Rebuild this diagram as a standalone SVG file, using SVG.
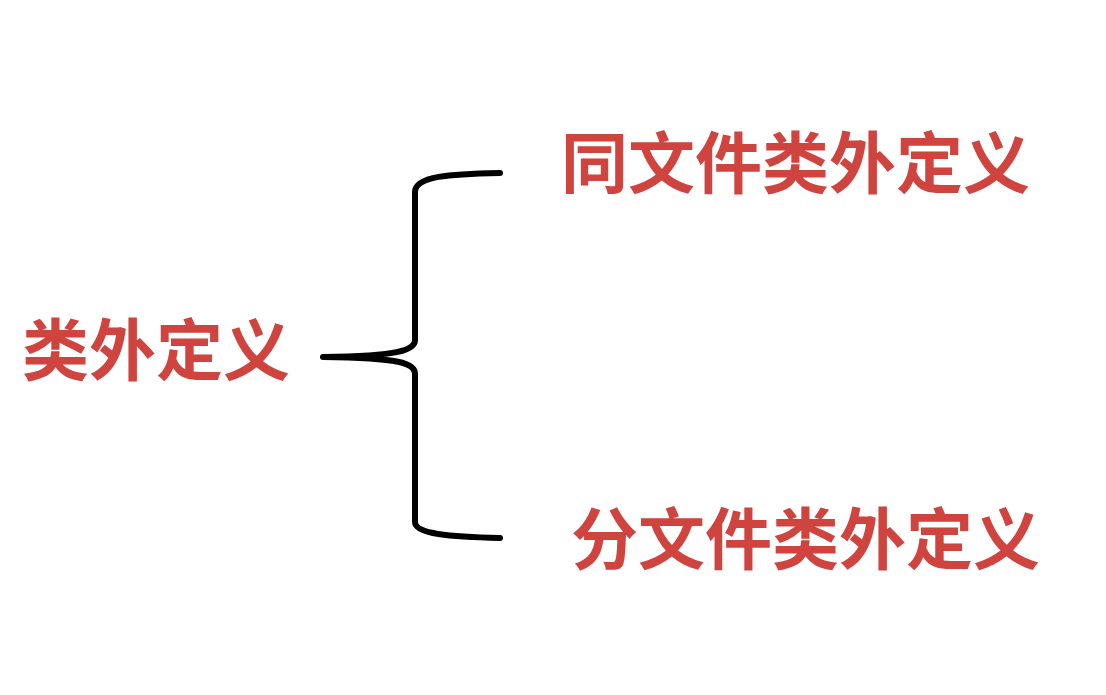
<svg xmlns="http://www.w3.org/2000/svg" width="1106" height="695" viewBox="0 0 1106 695">
<style>
.t{font-family:"Noto Sans CJK SC","Noto Sans CJK JP",sans-serif;font-weight:bold;font-size:67px;fill:#d0443f;}
.brace{fill:none;stroke:#000;stroke-width:6;stroke-linecap:round;stroke-linejoin:round;}
</style>
<rect width="1106" height="695" fill="#ffffff"/>
<g id="root"><text class="t" x="22" y="375">类外定义</text></g>
<g id="same"><text class="t" x="561" y="188">同文件类外定义</text></g>
<g id="split"><text class="t" x="571" y="564">分文件类外定义</text></g>
<g id="connectors">
<path class="brace" d="M500,173 C450,174 415,176 415,192 L415,340 C415,350 400,356 323,357 C400,358 415,363 415,374 L415,522 C415,534 450,537 500,538"/>
</g>
</svg>
